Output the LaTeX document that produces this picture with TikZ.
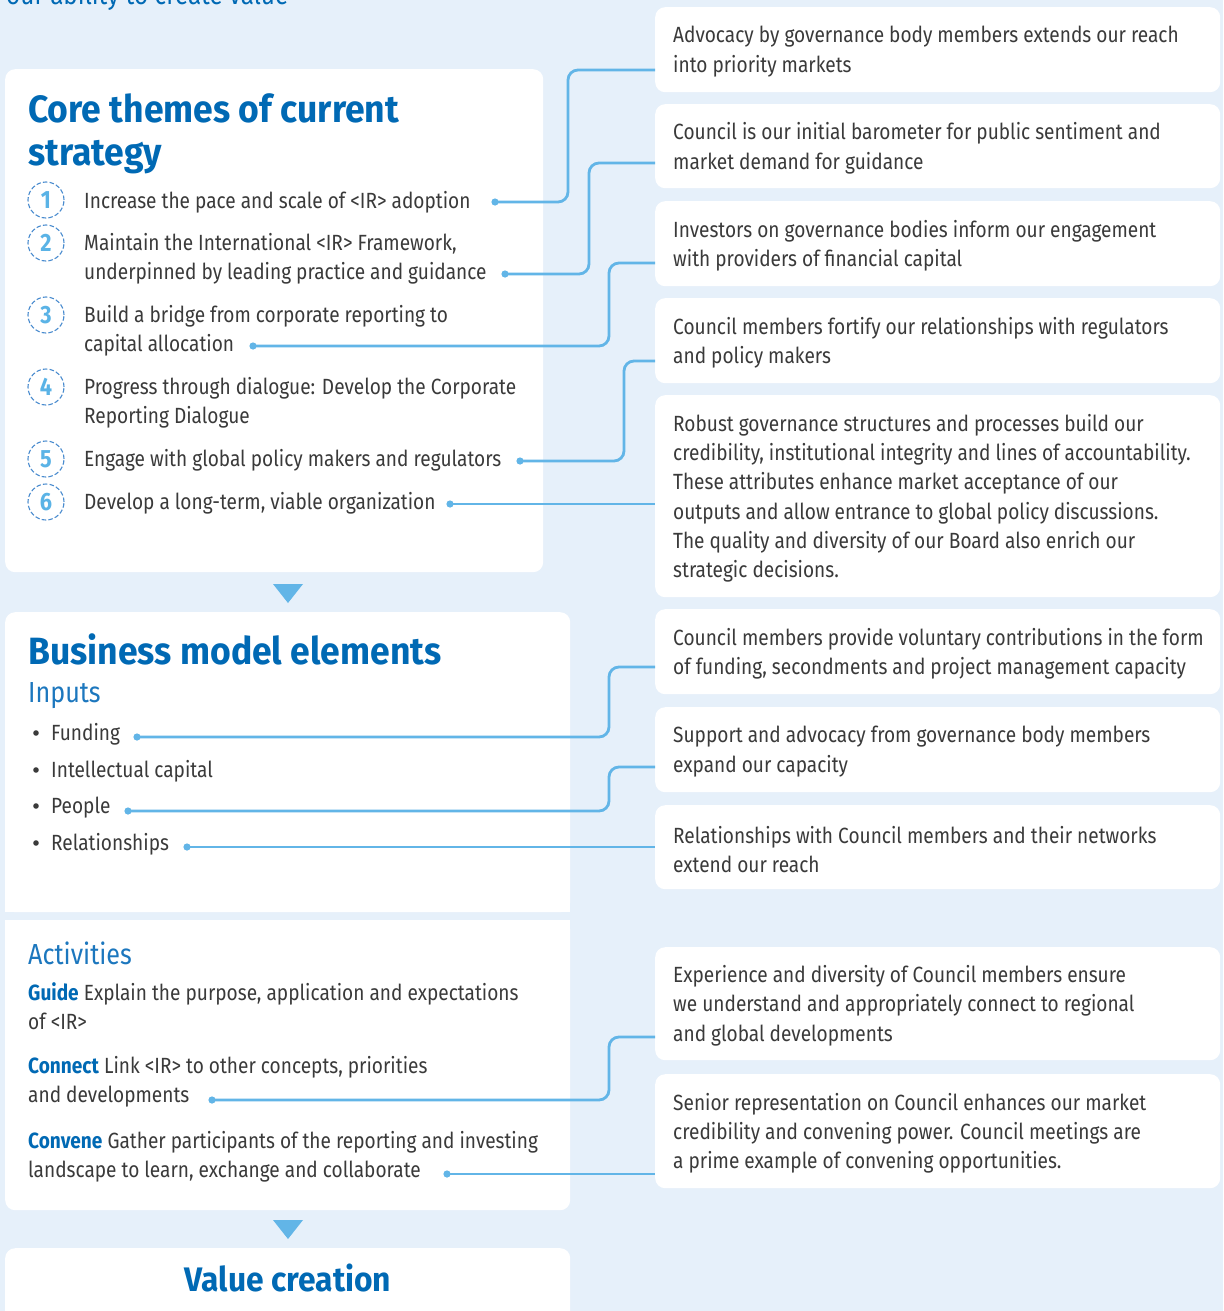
\documentclass[tikz,border=0pt]{standalone}
\usepackage{fontspec}
\setmainfont{Fira Sans}[FakeStretch=0.867]
\newfontfamily\ttlfont{Fira Sans}[FakeStretch=0.935]
\usetikzlibrary{calc}
\definecolor{bgc}{HTML}{E6F0FA}
\definecolor{titleblue}{HTML}{0069B4}
\definecolor{subblue}{HTML}{1C77BE}
\definecolor{linkblue}{HTML}{62B5E7}
\definecolor{numblue}{HTML}{5AB3E6}
\definecolor{ringblue}{HTML}{4A8CCF}
\definecolor{txt}{HTML}{3A3A3A}
\newcommand\mybody{\fontsize{22}{29.3}\selectfont}
\newcommand\mytitle{\ttlfont\fontsize{38}{43}\selectfont\bfseries}
\newcommand\mysub{\fontsize{29}{32}\selectfont}
\tikzset{
  panel/.style={fill=white, rounded corners=10pt, draw=none, anchor=north west, inner sep=0pt},
  rbox/.style={fill=white, rounded corners=10pt, draw=none, anchor=north west, inner sep=0pt, minimum width=565pt},
  rtext/.style={anchor=west, inner sep=0pt, align=left, text=txt, font=\mybody},
  body/.style={anchor=base west, inner sep=0pt, align=left, text=txt, font=\mybody},
  ttl/.style={anchor=base west, inner sep=0pt, align=left, text=titleblue, font=\mytitle},
  sub/.style={anchor=base west, inner sep=0pt, text=subblue, font=\mysub},
  numc/.style={circle, draw=ringblue, line width=1.1pt, dash pattern=on 4.5pt off 2.2pt, minimum size=36pt, inner sep=0pt, text=numblue, font=\fontsize{25}{26}\selectfont\bfseries},
  conn/.style={draw=linkblue, line width=2.8pt, rounded corners=10pt},
  dot/.style={fill=linkblue},
  tri/.style={fill=linkblue},
  bul/.style={fill=txt}
}
\begin{document}
\begin{tikzpicture}[x=1pt,y=-1pt]
\fill[bgc] (0,0) rectangle (1223,1311);
\useasboundingbox (0,0) rectangle (1223,1311);

% cut-off heading
\node[anchor=base west, inner sep=0pt, text=titleblue, font=\fontsize{28}{30}\selectfont] (head) at (6,5) {our ability to create value};

% left panels
\node[panel, minimum width=538pt, minimum height=503pt] (p1) at (5,69) {};
\node[panel, minimum width=565pt, minimum height=300pt] (p2) at (5,612) {};
\fill[white] ($(p2.south west)+(0,-15)$) rectangle (p2.south east);
\node[panel, minimum width=565pt, minimum height=290pt] (p3) at (5,920) {};
\fill[white] (p3.north west) rectangle ($(p3.north east)+(0,15)$);
\node[panel, minimum width=565pt, minimum height=100pt] (p4) at (5,1248) {};

% arrows between panels
\fill[tri] (273,584) -- (303,584) -- (288,603) -- cycle;
\fill[tri] (273,1220) -- (303,1220) -- (288,1239) -- cycle;

% panel 1 (base anchor = baseline of last line)
\node[ttl] (t1) at (28,165) {Core themes of current\\strategy};
\node[numc] (n1) at (46,200) {1};
\node[numc] (n2) at (46,243) {2};
\node[numc] (n3) at (46,315) {3};
\node[numc] (n4) at (46,387) {4};
\node[numc] (n5) at (46,459) {5};
\node[numc] (n6) at (46,502) {6};
\node[body] (i1) at (84,208) {Increase the pace and scale of <IR> adoption};
\node[body] (i2) at (84,279.3) {Maintain the International <IR> Framework,\\underpinned by leading practice and guidance};
\node[body] (i3) at (84,351.3) {Build a bridge from corporate reporting to\\capital allocation};
\node[body] (i4) at (84,423.3) {Progress through dialogue: Develop the Corporate\\Reporting Dialogue};
\node[body] (i5) at (84,466) {Engage with global policy makers and regulators};
\node[body] (i6) at (84,509) {Develop a long-term, viable organization};

% panel 2
\node[ttl] (t2) at (28,664) {Business model elements};
\node[sub] (s2) at (28,702) {Inputs};
\foreach \yy/\nm/\tx in {740/b1/Funding, 777/b2/Intellectual capital, 813/b3/People, 850/b4/Relationships}{
  \fill[bul] (36,\yy-7) circle (2.8);
  \node[body] (\nm) at (51,\yy) {\tx};
}

% panel 3
\node[sub] (s3) at (28,964) {Activities};
\node[body] (a1) at (28,1029.3) {\textcolor{titleblue}{\bfseries Guide} Explain the purpose, application and expectations\\of <IR>};
\node[body] (a2) at (28,1102.3) {\textcolor{titleblue}{\bfseries Connect} Link <IR> to other concepts, priorities\\and developments};
\node[body] (a3) at (28,1177.3) {\textcolor{titleblue}{\bfseries Convene} Gather participants of the reporting and investing\\landscape to learn, exchange and collaborate};

% panel 4
\node[anchor=base, inner sep=0pt, text=titleblue, font=\ttlfont\fontsize{34}{38}\selectfont\bfseries] (vc) at (288,1291) {Value creation};

% right boxes
\node[rbox, minimum height=85pt] (r1) at (655,7) {};
\node[rbox, minimum height=84pt] (r2) at (655,104) {};
\node[rbox, minimum height=85pt] (r3) at (655,201) {};
\node[rbox, minimum height=85pt] (r4) at (655,298) {};
\node[rbox, minimum height=202pt] (r5) at (655,395) {};
\node[rbox, minimum height=85pt] (r6) at (655,609) {};
\node[rbox, minimum height=85pt] (r7) at (655,707) {};
\node[rbox, minimum height=84pt] (r8) at (655,805) {};
\node[rbox, minimum height=113pt] (r9) at (655,947) {};
\node[rbox, minimum height=114pt] (r10) at (655,1074) {};

\node[rtext] (x1) at ($(r1.west)+(18,2)$) {Advocacy by governance body members extends our reach\\into priority markets};
\node[rtext] (x2) at ($(r2.west)+(18,2)$) {Council is our initial barometer for public sentiment and\\market demand for guidance};
\node[rtext] (x3) at ($(r3.west)+(18,2)$) {Investors on governance bodies inform our engagement\\with providers of financial capital};
\node[rtext] (x4) at ($(r4.west)+(18,2)$) {Council members fortify our relationships with regulators\\and policy makers};
\node[rtext] (x5) at ($(r5.west)+(18,2)$) {Robust governance structures and processes build our\\credibility, institutional integrity and lines of accountability.\\These attributes enhance market acceptance of our\\outputs and allow entrance to global policy discussions.\\The quality and diversity of our Board also enrich our\\strategic decisions.};
\node[rtext] (x6) at ($(r6.west)+(18,2)$) {Council members provide voluntary contributions in the form\\of funding, secondments and project management capacity};
\node[rtext] (x7) at ($(r7.west)+(18,2)$) {Support and advocacy from governance body members\\expand our capacity};
\node[rtext] (x8) at ($(r8.west)+(18,2)$) {Relationships with Council members and their networks\\extend our reach};
\node[rtext] (x9) at ($(r9.west)+(18,2)$) {Experience and diversity of Council members ensure\\we understand and appropriately connect to regional\\and global developments};
\node[rtext] (x10) at ($(r10.west)+(18,2)$) {Senior representation on Council enhances our market\\credibility and convening power. Council meetings are\\a prime example of convening opportunities.};

% connector start points
\coordinate (d1) at (495,202);
\coordinate (d2) at (505,274);
\coordinate (d3) at (253,346);
\coordinate (d4) at (520,461);
\coordinate (d5) at (450,504);
\coordinate (d6) at (137,737);
\coordinate (d7) at (128,811);
\coordinate (d8) at (187,847);
\coordinate (d9) at (212,1100);
\coordinate (d10) at (447,1174);

% connectors
\draw[conn] (d1) -| (568,70) -- (r1.west |- 0,70);
\draw[conn] (d2) -| (589,163) -- (r2.west |- 0,163);
\draw[conn] (d3) -| (609,263) -- (r3.west |- 0,263);
\draw[conn] (d4) -| (624,361) -- (r4.west |- 0,361);
\draw[conn] (d5) -- (r5.west |- d5);
\draw[conn] (d6) -| (609,667) -- (r6.west |- 0,667);
\draw[conn] (d7) -| (609,767) -- (r7.west |- 0,767);
\draw[conn] (d8) -- (r8.west |- d8);
\draw[conn] (d9) -| (609,1037) -- (r9.west |- 0,1037);
\draw[conn] (d10) -- (r10.west |- d10);
\foreach \d in {d1,d2,d3,d4,d5,d6,d7,d8,d9,d10}{\fill[dot] (\d) circle (3.6);}
\end{tikzpicture}
\end{document}
